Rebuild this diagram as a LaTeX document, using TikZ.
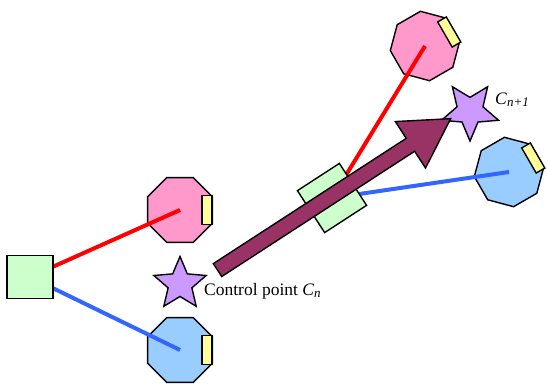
\documentclass[tikz,border=0pt]{standalone}
\usepackage{fontspec}
\setmainfont{Liberation Serif}
\usetikzlibrary{shapes.geometric,shapes.arrows,backgrounds,calc}
\definecolor{robotpink}{HTML}{FF99CC}
\definecolor{robotblue}{HTML}{99CCFF}
\definecolor{sensoryellow}{HTML}{FFFF99}
\definecolor{basegreen}{HTML}{CCFFCC}
\definecolor{starpurple}{HTML}{CC99FF}
\definecolor{movemaroon}{HTML}{993366}
\definecolor{linkred}{HTML}{FF0000}
\definecolor{linkblue}{HTML}{3366FF}
\newcommand{\lowsub}[1]{\raisebox{-0.3ex}{\fontsize{13}{13}\selectfont\itshape #1}}
\tikzset{
  robot/.style={draw, line width=1.4pt, regular polygon, regular polygon sides=8, minimum size=70pt, inner sep=0pt},
  sensor/.style={draw, line width=1.4pt, fill=sensoryellow, minimum width=10pt, minimum height=29pt, inner sep=0pt},
  base/.style={draw, line width=1.4pt, fill=basegreen, inner sep=0pt},
  ctrlstar/.style={draw, line width=1.4pt, fill=starpurple, star, star points=5, star point ratio=2.2, inner sep=0pt},
  link/.style={line width=4pt},
  label/.style={font=\fontsize{17.5}{20}\selectfont, inner sep=0pt},
}
\begin{document}
\begin{tikzpicture}[x=1pt, y=1pt]
\useasboundingbox (0,0) rectangle (548,383);
% bases
\node[base, minimum width=46pt, minimum height=43pt] (g1) at (30,106) {};
\node[base, minimum size=50pt, rotate=33] (g2) at (332,185) {};
% control points
\node[ctrlstar, minimum size=55pt] (c1) at (180,99) {};
\node[ctrlstar, minimum size=60pt, shape border rotate=180] (c2) at (470,272) {};
\node[label, anchor=west] (c1lbl) at (204,92) {Control point \textit{C}\lowsub{n}};
\node[label, anchor=west] (c2lbl) at (495,283) {\textit{C}\lowsub{n+1}};
% motion
\node[draw, line width=1.4pt, fill=movemaroon, single arrow, single arrow tip angle=60,
  single arrow head extend=20pt, minimum height=278pt, inner xsep=0pt, inner ysep=7pt,
  rotate=33] (mv) at (328.5,185) {};
\begin{pgfonlayer}{background}
% robots
\node[robot, fill=robotpink] (p1) at (180,173) {};
\node[robot, fill=robotblue] (b1) at (180,33) {};
\node[robot, fill=robotpink, rotate=30] (p2) at (425,337) {};
\node[robot, fill=robotblue, rotate=30] (b2) at (509,211) {};
\node[sensor] (s1) at ($(p1)+(27,0)$) {};
\node[sensor] (s2) at ($(b1)+(27,0)$) {};
\node[sensor, rotate=30] (s3) at ($(p2)+(30:28)$) {};
\node[sensor, rotate=30] (s4) at ($(b2)+(30:28)$) {};
% links
\draw[link, linkred] (g1.center) -- (p1.center);
\draw[link, linkblue] (g1.center) -- (b1.center);
\draw[link, linkred] (g2.center) -- (p2.center);
\draw[link, linkblue] (g2.center) -- (b2.center);
\end{pgfonlayer}
\end{tikzpicture}
\end{document}
